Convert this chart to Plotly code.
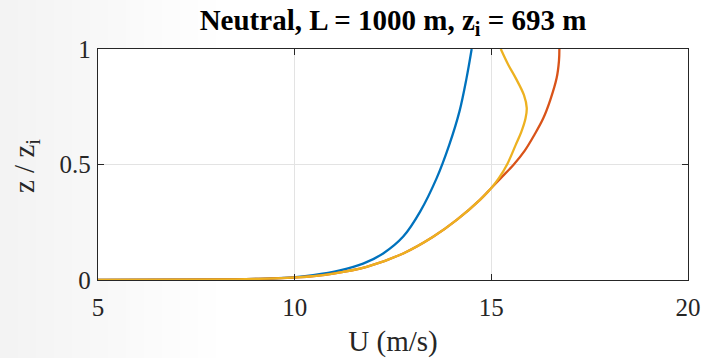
import plotly.graph_objects as go

# Blue profile (U in m/s, z/zi)
u_blue = [5.0, 7.0, 8.5, 9.3, 9.96, 10.47, 11.15, 11.74, 12.25, 12.76, 13.19, 13.61, 13.93, 14.19, 14.37, 14.50]
z_blue = [0.0, 0.001, 0.003, 0.006, 0.011, 0.021, 0.042, 0.071, 0.115, 0.188, 0.296, 0.441, 0.585, 0.730, 0.874, 1.0]

# Red profile
u_red = [5.0, 7.0, 8.5, 9.3, 10.05, 10.98, 11.83, 12.76, 13.52, 14.12, 14.71, 15.0, 15.24, 15.56, 15.85, 16.10, 16.32, 16.50, 16.66, 16.72, 16.73]
z_red = [0.0, 0.001, 0.003, 0.006, 0.011, 0.028, 0.057, 0.115, 0.187, 0.260, 0.347, 0.398, 0.441, 0.498, 0.560, 0.630, 0.700, 0.780, 0.874, 0.950, 1.0]

# Yellow profile
u_yel = [5.0, 7.0, 8.5, 9.3, 10.05, 10.98, 11.83, 12.76, 13.52, 14.12, 14.71, 15.0, 15.20, 15.40, 15.62, 15.76, 15.87, 15.90, 15.83, 15.62, 15.43, 15.24]
z_yel = [0.0, 0.001, 0.003, 0.006, 0.011, 0.028, 0.057, 0.115, 0.187, 0.260, 0.347, 0.398, 0.443, 0.500, 0.585, 0.640, 0.700, 0.745, 0.800, 0.874, 0.932, 1.0]

x_ticks = [5, 10, 15, 20]
y_ticks = [0, 0.5, 1]
y_tick_text = ["0", "0.5", "1"]

FONT = "Liberation Serif"
W, H = 704, 358
L, R, T, B = 98, 16, 49, 78

fig = go.Figure()

# faint grey vignette on the left of the picture (outside the axes)
pw = W - L - R
ph = H - T - B


def px2x(p):
    return (p - L) / pw


def py2y(p):
    return (H - B - p) / ph


steps = 12
for i in range(steps):
    x0 = i * 18
    x1 = (i + 1) * 18
    g = int(243 + (254 - 243) * i / (steps - 1))
    col = f"rgb({g},{g},{g})"
    if x0 < L:
        fig.add_shape(type="rect", xref="paper", yref="paper", x0=px2x(x0), x1=px2x(min(x1, L)),
                      y0=py2y(H), y1=py2y(0), fillcolor=col, line_width=0, layer="below")
    if x1 > L:
        xa = max(x0, L)
        fig.add_shape(type="rect", xref="paper", yref="paper", x0=px2x(xa), x1=px2x(x1),
                      y0=py2y(H), y1=py2y(H - B), fillcolor=col, line_width=0, layer="below")
        fig.add_shape(type="rect", xref="paper", yref="paper", x0=px2x(xa), x1=px2x(x1),
                      y0=py2y(T), y1=py2y(0), fillcolor=col, line_width=0, layer="below")

for u, z, c in [(u_blue, z_blue, "#0072BD"), (u_red, z_red, "#D95319"), (u_yel, z_yel, "#EDB120")]:
    fig.add_trace(go.Scatter(x=u, y=z, mode="lines", line=dict(color=c, width=2.3, shape="spline", smoothing=1.0),
                             showlegend=False))

axis_common = dict(showline=True, linecolor="#262626", linewidth=1.3, mirror="ticks", ticks="inside",
                   ticklen=6, tickcolor="#262626", showgrid=True, gridcolor="#e3e3e3", gridwidth=1,
                   zeroline=False, automargin=False, tickfont=dict(family=FONT, size=25, color="#262626"))

fig.add_annotation(text="z / z<sub>i</sub>", xref="paper", yref="paper", x=px2x(26), y=py2y(166),
                   xanchor="center", yanchor="middle", textangle=-90, showarrow=False,
                   font=dict(family=FONT, size=29, color="#262626"))

fig.update_layout(
    width=W, height=H,
    margin=dict(l=L, r=R, t=T, b=B),
    paper_bgcolor="white", plot_bgcolor="white",
    title=dict(text="<b>Neutral, L = 1000 m, z<sub>i</sub> = 693 m</b>", x=393 / W, xanchor="center",
               xref="container", yref="container", y=0.973, yanchor="top",
               font=dict(family=FONT, size=29, color="black")),
    xaxis=dict(range=[5, 20], tickvals=x_ticks, ticklabelstandoff=5,
               title=dict(text="U (m/s)", font=dict(family=FONT, size=29, color="#262626"), standoff=11),
               **axis_common),
    yaxis=dict(range=[0, 1], tickvals=y_ticks, ticktext=y_tick_text, ticklabelstandoff=1,
               **axis_common),
)

fig.write_html("out.html", config={"displayModeBar": False},
               post_script="document.body.style.margin='0';document.body.style.overflow='hidden';")
